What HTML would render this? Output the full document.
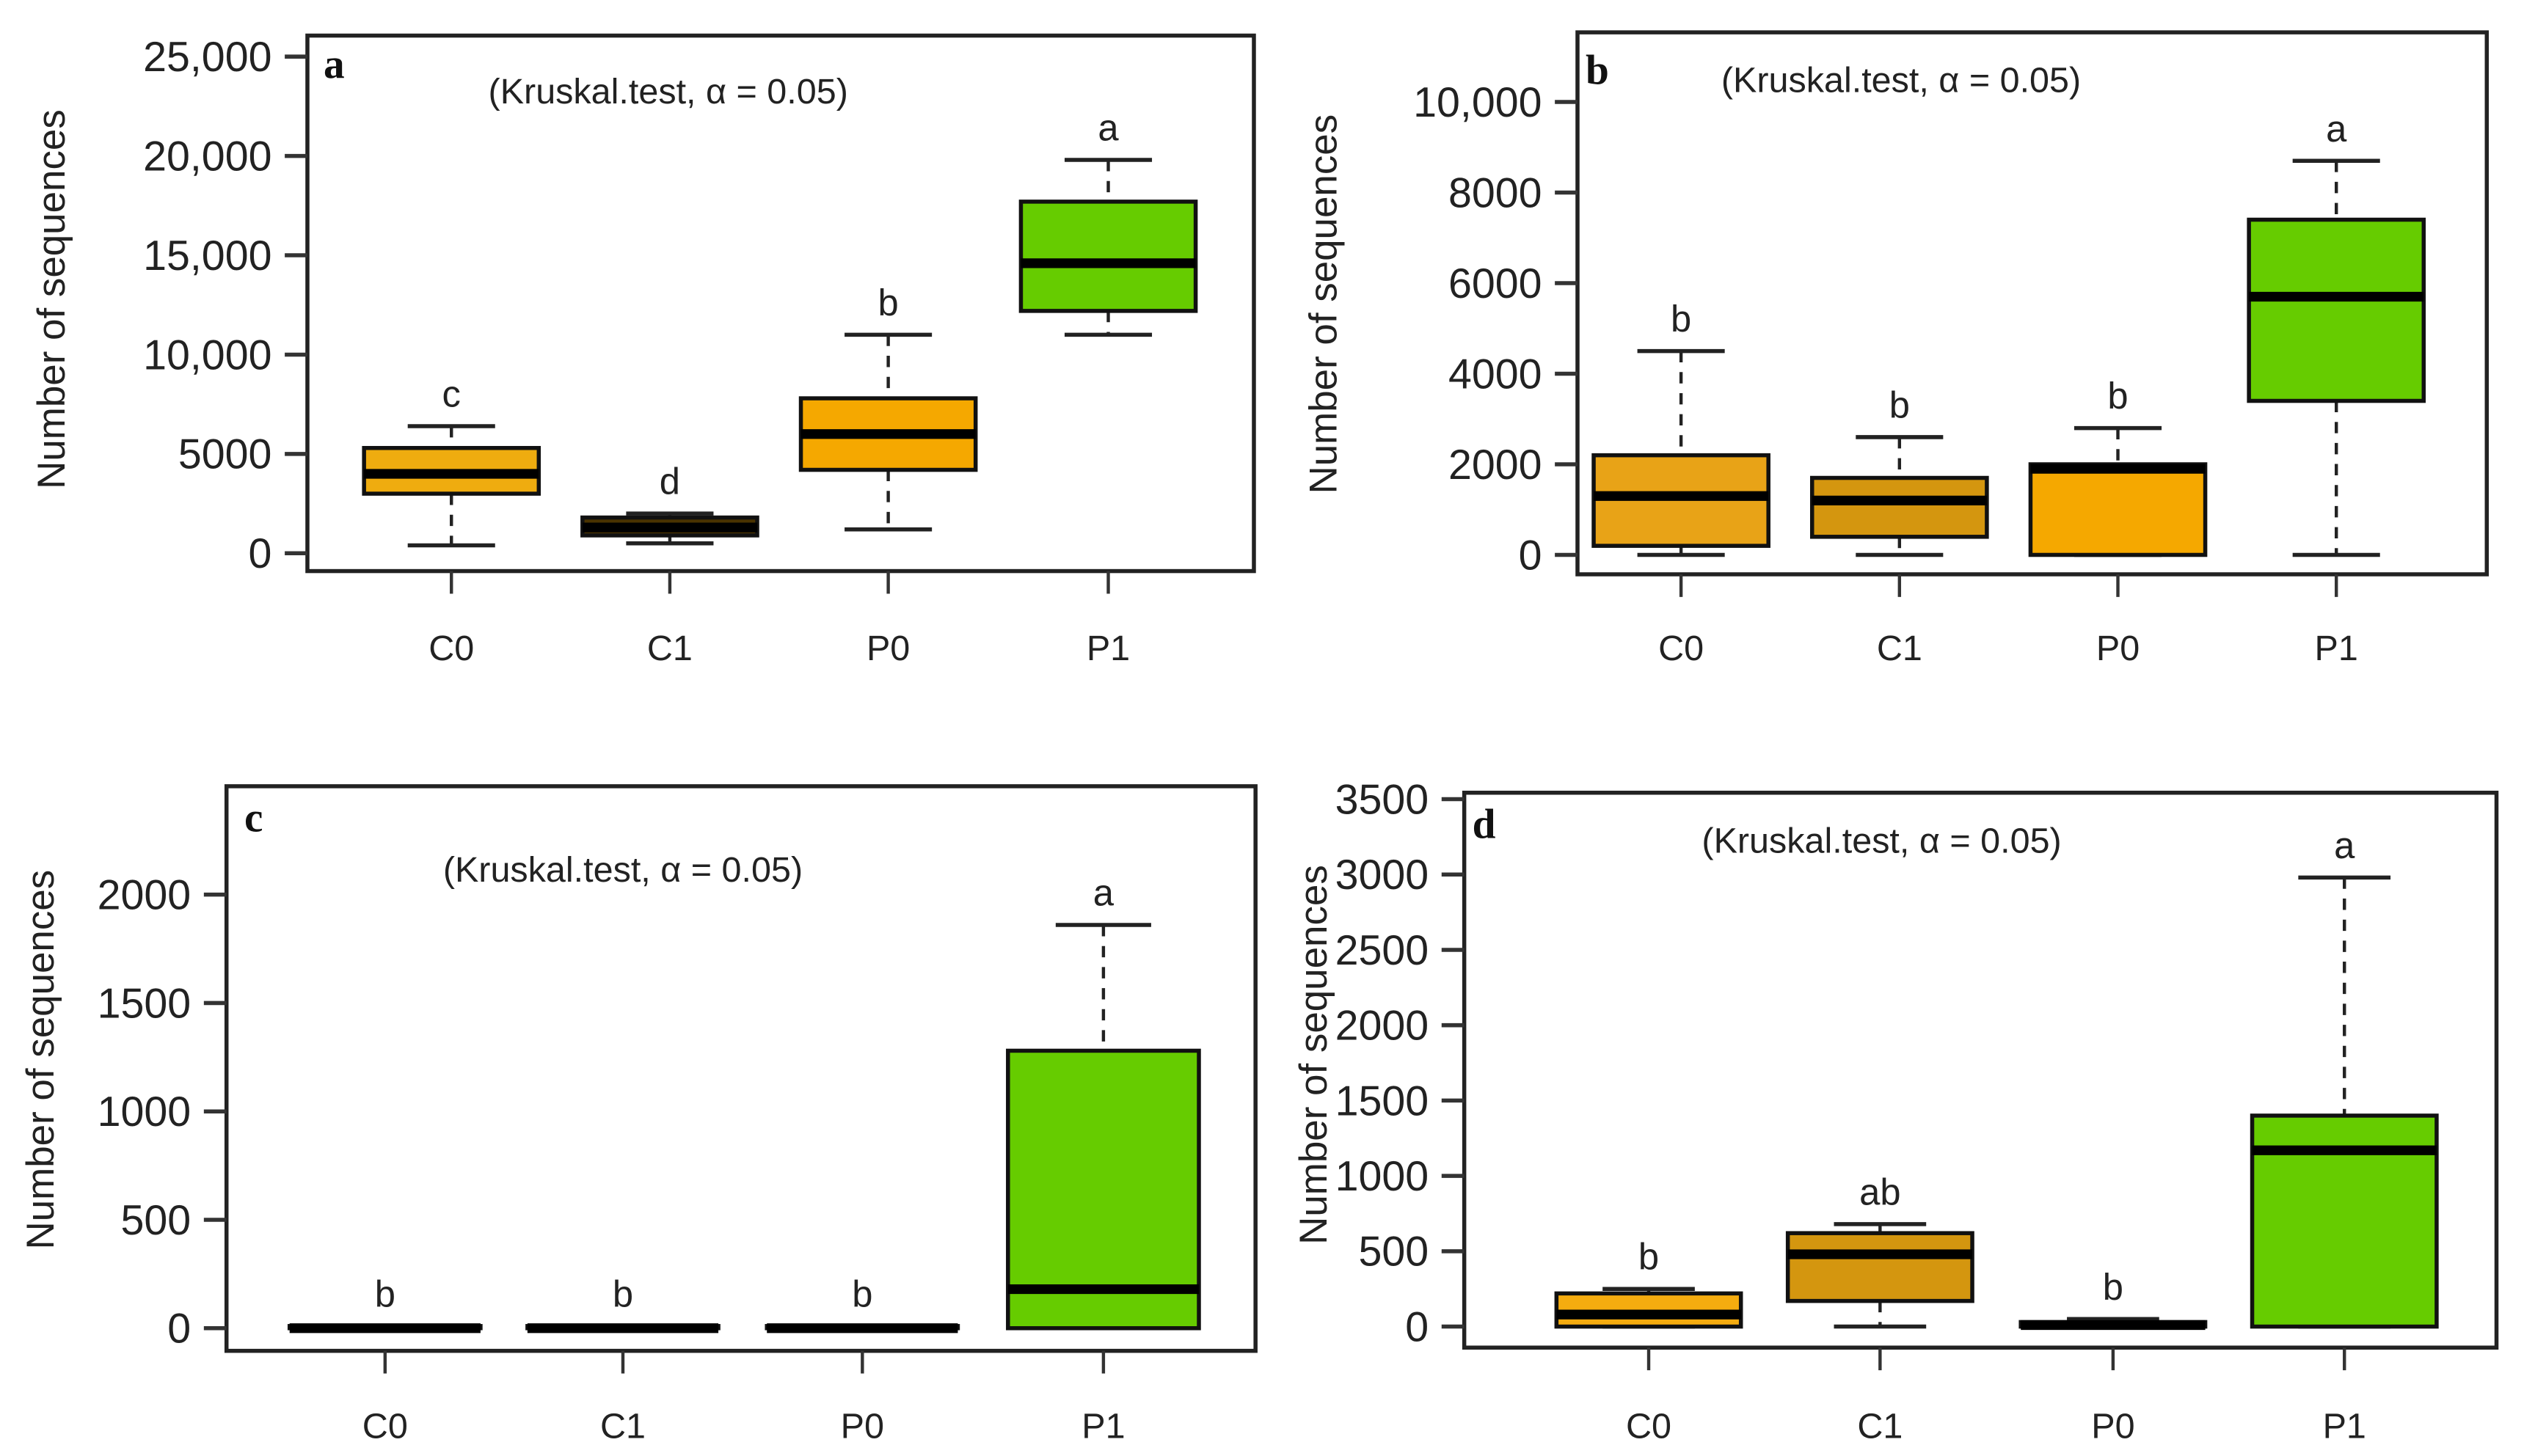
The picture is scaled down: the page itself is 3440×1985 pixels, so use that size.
<!DOCTYPE html>
<html><head><meta charset="utf-8"><style>
html,body{margin:0;padding:0;background:#fff;}
svg{display:block;font-family:"Liberation Sans",Arial,sans-serif;}
</style></head>
<body>
<svg id="fig" width="3440" height="1985" viewBox="0 0 1560 900" preserveAspectRatio="none" xmlns="http://www.w3.org/2000/svg"></svg>
<script>
const categories = ["C0","C1","P0","P1"];
// panel a
const aMin=[400,500,1200,11000], aQ1=[3000,900,4200,12200], aMed=[4000,1300,6000,14600], aQ3=[5300,1800,7800,17700], aMax=[6400,2000,11000,19800];
const aLetters=["c","d","b","a"];
const aTicks=[0,5000,10000,15000,20000,25000];
const aTickLabels=["0","5000","10,000","15,000","20,000","25,000"];
// panel b
const bMin=[0,0,0,0], bQ1=[200,400,0,3400], bMed=[1300,1200,1900,5700], bQ3=[2200,1700,2000,7400], bMax=[4500,2600,2800,8700];
const bLetters=["b","b","b","a"];
const bTicks=[0,2000,4000,6000,8000,10000];
const bTickLabels=["0","2000","4000","6000","8000","10,000"];
// panel c
const cMin=[0,0,0,0], cQ1=[0,0,0,0], cMed=[0,0,0,180], cQ3=[10,10,10,1280], cMax=[10,10,10,1860];
const cLetters=["b","b","b","a"];
const cTicks=[0,500,1000,1500,2000];
const cTickLabels=["0","500","1000","1500","2000"];
// panel d
const dMin=[0,0,0,0], dQ1=[0,170,0,0], dMed=[80,480,10,1170], dQ3=[220,620,30,1400], dMax=[250,680,50,2980];
const dLetters=["b","ab","b","a"];
const dTicks=[0,500,1000,1500,2000,2500,3000,3500];
const dTickLabels=["0","500","1000","1500","2000","2500","3000","3500"];

const NS="http://www.w3.org/2000/svg";
const svg=document.getElementById('fig');
function mk(tag,attrs,parent,text){const e=document.createElementNS(NS,tag);for(const k in attrs)e.setAttribute(k,attrs[k]);if(text!==undefined)e.textContent=text;(parent||svg).appendChild(e);return e;}

const layouts=[
 {id:"a",L:190,R:775,T:22,B:353,y0:342,yTop:35,vTop:25000,xs:[279,414,549,685],hw:54,lab:"a",labX:200,labY:48,kx:413,ky:64,titleX:32,titleY:185,xlabY:408,
  colors:["#efac0f","#4a3300","#f5a800","#66cc00"],
  mn:aMin,q1:aQ1,md:aMed,q3:aQ3,mx:aMax,let:aLetters,ticks:aTicks,tl:aTickLabels},
 {id:"b",L:975,R:1537,T:20,B:355,y0:343,yTop:63,vTop:10000,xs:[1039,1174,1309,1444],hw:54,lab:"b",labX:980,labY:52,kx:1175,ky:57,titleX:818,titleY:188,xlabY:408,
  colors:["#e8a317","#d4960f","#f5a800","#66cc00"],
  mn:bMin,q1:bQ1,md:bMed,q3:bQ3,mx:bMax,let:bLetters,ticks:bTicks,tl:bTickLabels},
 {id:"c",L:140,R:776,T:486,B:835,y0:821,yTop:553,vTop:2000,xs:[238,385,533,682],hw:59,lab:"c",labX:151,labY:514,kx:385,ky:545,titleX:25,titleY:655,xlabY:889,
  colors:["#f5a800","#d4960f","#f5a800","#66cc00"],
  mn:cMin,q1:cQ1,md:cMed,q3:cQ3,mx:cMax,let:cLetters,ticks:cTicks,tl:cTickLabels},
 {id:"d",L:905,R:1543,T:490,B:833,y0:820,yTop:494,vTop:3500,xs:[1019,1162,1306,1449],hw:57,lab:"d",labX:910,labY:518,kx:1163,ky:527,titleX:812,titleY:652,xlabY:889,
  colors:["#f5ac0f","#d4960f","#f5a800","#66cc00"],
  mn:dMin,q1:dQ1,md:dMed,q3:dQ3,mx:dMax,let:dLetters,ticks:dTicks,tl:dTickLabels}
];

layouts.forEach(p=>{
  const g=mk('g',{});
  
  
  const y=v=>p.y0-(v/p.vTop)*(p.y0-p.yTop);
  const fr=mk('rect',{x:p.L,y:p.T,width:p.R-p.L,height:p.B-p.T,fill:'none',stroke:'#222',"stroke-width":2.5},g);
  
  
  p.ticks.forEach((t,i)=>{
    const ty=y(t);
    const tk=mk('line',{x1:p.L-14,x2:p.L,y1:ty,y2:ty,stroke:'#333',"stroke-width":2.5},g);
    
    
    const tl=mk('text',{x:p.L-22,y:ty+9,"text-anchor":"end","font-size":26,fill:'#222'},g,p.tl[i]);
    
    
  });
  categories.forEach((c,i)=>{
    const cx=p.xs[i];
    const xt=mk('line',{x1:cx,x2:cx,y1:p.B,y2:p.B+14,stroke:'#333',"stroke-width":2},g);
    
    
    const xl=mk('text',{x:cx,y:p.xlabY,"text-anchor":"middle","font-size":22,fill:'#222'},g,c);
    
    
    const bg=mk('g',{},g);
    
    
    mk('line',{x1:cx,x2:cx,y1:y(p.mx[i]),y2:y(p.q3[i]),stroke:'#222',"stroke-width":2,"stroke-dasharray":"7,6"},bg);
    mk('line',{x1:cx,x2:cx,y1:y(p.q1[i]),y2:y(p.mn[i]),stroke:'#222',"stroke-width":2,"stroke-dasharray":"7,6"},bg);
    mk('line',{x1:cx-p.hw/2,x2:cx+p.hw/2,y1:y(p.mx[i]),y2:y(p.mx[i]),stroke:'#222',"stroke-width":2.5},bg);
    mk('line',{x1:cx-p.hw/2,x2:cx+p.hw/2,y1:y(p.mn[i]),y2:y(p.mn[i]),stroke:'#222',"stroke-width":2.5},bg);
    const top=y(p.q3[i]),bot=y(p.q1[i]);
    mk('rect',{x:cx-p.hw,y:top,width:2*p.hw,height:Math.max(bot-top,1),fill:p.colors[i],stroke:'#111',"stroke-width":2.5},bg);
    mk('line',{x1:cx-p.hw,x2:cx+p.hw,y1:y(p.md[i]),y2:y(p.md[i]),stroke:'#000',"stroke-width":6},bg);
    const lt=mk('text',{x:cx,y:y(p.mx[i])-12,"text-anchor":"middle","font-size":23,fill:'#222'},g,p.let[i]);
    
    
  });
  const pl=mk('text',{x:p.labX,y:p.labY,"font-size":26,"font-weight":"bold","font-family":"Liberation Serif, serif",fill:'#111'},g,p.lab);
  
  
  const kt=mk('text',{x:p.kx,y:p.ky,"text-anchor":"middle","font-size":22,fill:'#222'},g,"(Kruskal.test, \u03b1 = 0.05)");
  
  
  const yt=mk('text',{x:0,y:0,"text-anchor":"middle","font-size":24,fill:'#222',transform:`translate(${p.titleX+8},${p.titleY}) rotate(-90)`},g,"Number of sequences");
  
  
});
</script>
</body></html>
